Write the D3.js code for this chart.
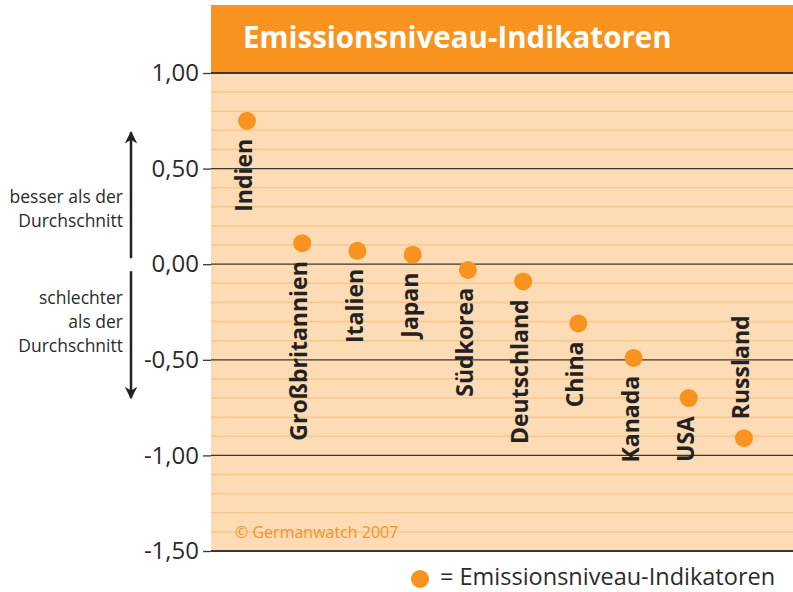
<!DOCTYPE html>
<html>
<head>
<meta charset="utf-8">
<script src="https://cdn.jsdelivr.net/npm/d3@7"></script>
<style>
  body { margin: 0; background: #fff; overflow: hidden; }
  svg { display: block; font-family: "Open Sans", "Noto Sans", sans-serif; }
</style>
</head>
<body>
<div class="container"></div>
<script>
var countries = ["Indien", "Großbritannien", "Italien", "Japan", "Südkorea", "Deutschland", "China", "Kanada", "USA", "Russland"];
var values = [0.75, 0.11, 0.07, 0.05, -0.03, -0.09, -0.31, -0.49, -0.70, -0.91];
var yTicks = [1.0, 0.5, 0.0, -0.5, -1.0, -1.5];
var yTickLabels = ["1,00", "0,50", "0,00", "-0,50", "-1,00", "-1,50"];

var svgWidth = 793;
var svgHeight = 592;

var plot = { left: 211, right: 793, top: 73, bottom: 551 };

var svg = d3.select(".container")
    .append("svg")
    .attr("width", svgWidth)
    .attr("height", svgHeight);

var data = countries.map((c, i) => ({ name: c, value: values[i] }));

var y = d3.scaleLinear()
    .domain([-1.5, 1.0])
    .range([plot.bottom, plot.top]);

var x = d3.scalePoint()
    .domain(countries)
    .range([247, 744]);

// background
svg.append("rect")
    .attr("x", plot.left)
    .attr("y", plot.top)
    .attr("width", plot.right - plot.left)
    .attr("height", plot.bottom - plot.top)
    .attr("fill", "#FDDBB5");

// minor grid every 0.1
var minor = d3.range(-14, 10).map(d => d / 10);
svg.append("g")
    .selectAll("line")
    .data(minor.filter(d => Math.abs(Math.round(d * 10) % 5) !== 0))
    .enter()
    .append("line")
    .attr("x1", plot.left)
    .attr("x2", plot.right)
    .attr("y1", d => y(d))
    .attr("y2", d => y(d))
    .attr("stroke", "#F9C78E")
    .attr("stroke-width", 1.5);

// major lines
svg.append("g")
    .selectAll("line")
    .data(yTicks)
    .enter()
    .append("line")
    .attr("x1", plot.left)
    .attr("x2", plot.right)
    .attr("y1", d => y(d))
    .attr("y2", d => y(d))
    .attr("stroke", "#3a3633")
    .attr("stroke-width", d => (d === -1.5 || d === 1.0) ? 2 : 1.3);

// title bar
svg.append("rect")
    .attr("x", plot.left)
    .attr("y", 5)
    .attr("width", plot.right - plot.left)
    .attr("height", plot.top - 5)
    .attr("fill", "#F7931E");
svg.append("line")
    .attr("x1", plot.left).attr("x2", plot.right)
    .attr("y1", plot.top).attr("y2", plot.top)
    .attr("stroke", "#3a3633").attr("stroke-width", 2);

svg.append("text")
    .attr("x", 243)
    .attr("y", 48)
    .attr("fill", "#fff")
    .style("font-size", "29.5px")
    .style("font-weight", "bold")
    .text("Emissionsniveau-Indikatoren");

// y axis
var leftAxis = d3.axisLeft(y)
    .tickValues(yTicks)
    .tickFormat((d, i) => yTickLabels[i])
    .tickSize(8)
    .tickPadding(4);

var axisG = svg.append("g")
    .attr("transform", `translate(${plot.left}, 0)`)
    .call(leftAxis);
axisG.select(".domain").remove();
axisG.selectAll(".tick line").attr("stroke", "#3a3633").attr("stroke-width", 1.3);
axisG.selectAll(".tick text")
    .attr("fill", "#2b2b2b")
    .style("font-size", "24px")
    .style("font-family", "'Open Sans', sans-serif");

// arrows
var defs = svg.append("defs");
defs.append("marker")
    .attr("id", "arrow")
    .attr("viewBox", "0 0 10 10")
    .attr("refX", 9)
    .attr("refY", 5)
    .attr("markerWidth", 5)
    .attr("markerHeight", 7)
    .attr("markerUnits", "strokeWidth")
    .attr("orient", "auto")
    .append("path")
    .attr("d", "M0,0 L10,5 L0,10 L3,5 Z")
    .attr("fill", "#222");

svg.append("line")
    .attr("x1", 131).attr("x2", 131)
    .attr("y1", y(0) - 6).attr("y2", y(0.69))
    .attr("stroke", "#222").attr("stroke-width", 2.5)
    .attr("marker-end", "url(#arrow)");
svg.append("line")
    .attr("x1", 131).attr("x2", 131)
    .attr("y1", y(0) + 7).attr("y2", y(-0.7))
    .attr("stroke", "#222").attr("stroke-width", 2.5)
    .attr("marker-end", "url(#arrow)");

var noteUp = ["besser als der", "Durchschnitt"];
var noteDown = ["schlechter", "als der", "Durchschnitt"];
svg.append("g").selectAll("text")
    .data(noteUp).enter().append("text")
    .attr("x", 123)
    .attr("y", (d, i) => 203 + i * 24)
    .attr("text-anchor", "end")
    .attr("fill", "#2b2b2b")
    .style("font-size", "17.5px")
    .text(d => d);
svg.append("g").selectAll("text")
    .data(noteDown).enter().append("text")
    .attr("x", 123)
    .attr("y", (d, i) => 304 + i * 24)
    .attr("text-anchor", "end")
    .attr("fill", "#2b2b2b")
    .style("font-size", "17.5px")
    .text(d => d);

// points
svg.append("g").selectAll("circle")
    .data(data).enter().append("circle")
    .attr("cx", d => x(d.name))
    .attr("cy", d => y(d.value))
    .attr("r", 9)
    .attr("fill", "#F7931E");

// labels
svg.append("g").selectAll("text")
    .data(data).enter().append("text")
    .attr("transform", d => {
        var above = d.name === "Russland";
        var ty = above ? y(d.value) - 19 : y(d.value) + 18;
        return `translate(${x(d.name) - 3}, ${ty}) rotate(-90)`;
    })
    .attr("text-anchor", d => d.name === "Russland" ? "start" : "end")
    .attr("dy", "0.35em")
    .attr("fill", "#222")
    .style("font-size", "23px")
    .style("font-weight", "bold")
    .text(d => d.name);

// copyright
svg.append("text")
    .attr("x", 235)
    .attr("y", 538)
    .attr("fill", "#F7931E")
    .style("font-size", "16px")
    .text("© Germanwatch 2007");

// legend
svg.append("circle")
    .attr("cx", 420)
    .attr("cy", 579)
    .attr("r", 9)
    .attr("fill", "#F7931E");
svg.append("text")
    .attr("x", 440)
    .attr("y", 585)
    .attr("fill", "#2b2b2b")
    .style("font-size", "23.5px")
    .text("= Emissionsniveau-Indikatoren");
</script>
</body>
</html>
